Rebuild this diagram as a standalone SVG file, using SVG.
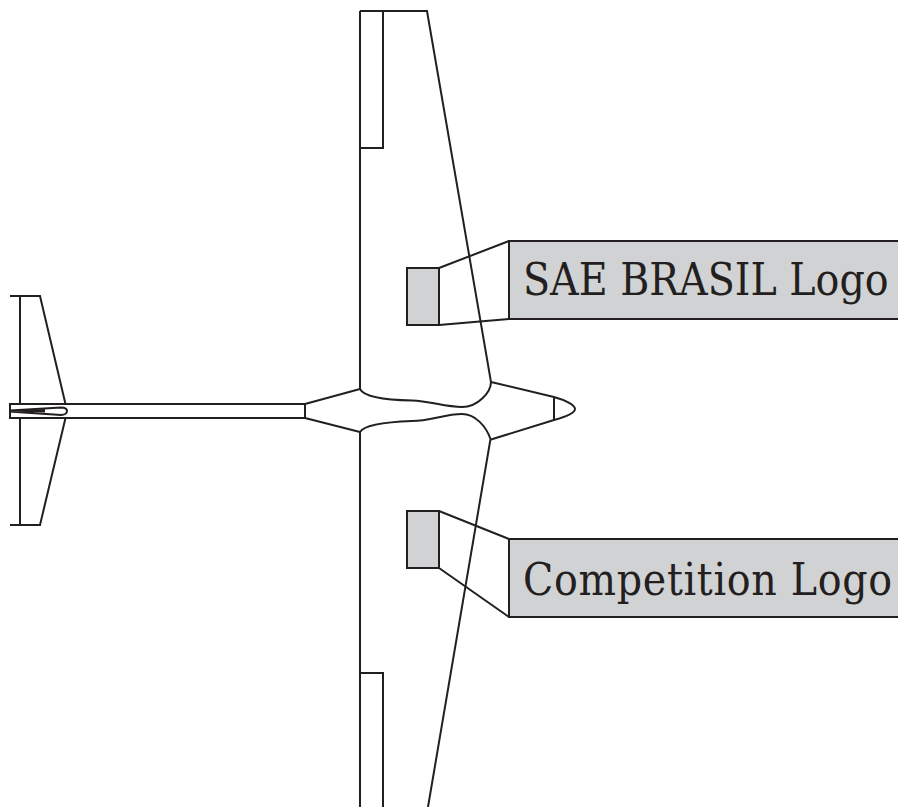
<svg xmlns="http://www.w3.org/2000/svg" width="898" height="807" viewBox="0 0 898 807">
<style>
.l{fill:none;stroke:#231f20;stroke-width:2;stroke-linejoin:miter}
.g{fill:#d1d2d3;stroke:#231f20;stroke-width:2}
.t{font-family:"DejaVu Serif Condensed","Liberation Serif",serif;font-size:44px;fill:#231f20}
</style>
<rect width="898" height="807" fill="#fff"/>
<g id="aircraft">
<path class="l" d="M360 807V432C364 425 385 422 412 421C430 421 445 414 462 414C475 414 486 426 490.500 439L428 807"/>
<path class="l" d="M360 11V389C364 397 385 400 412 400.500C430 401 445 407 462 407C478 407 491 392 491 382L427 11H360"/>
<path class="l" d="M360 148H383V11M360 673H383V807"/>
<path class="l" d="M491 382L554 397C565 400 575 405 575 409C575 413 565 417 554 420L491 439.500M554 397V420"/>
<path class="l" d="M360 389L305 404M360 432L305 418M305 404V418"/>
<path class="l" d="M305 404H10V418H305"/>
<path class="l" d="M10 410.500L61 407.500C65 407.500 67 409 67 411C67 413 65 415 61 415L10 411.500Z"/>
<path d="M11 410.500L45 409V412.500L11 411.500Z" fill="#231f20"/>
<path class="l" d="M10 296H40L65.500 404M20 296V404M10 525H40L65.500 418M20 525V418"/>
</g>
<g id="connectors">
<path class="l" d="M439 268L509 241M439 325L509 319M439 511L509 539M439 568L509 617"/>
</g>
<g id="sae-logo">
<rect class="g" x="407" y="268" width="32" height="57"/>
<path class="g" d="M898 241H509V319H898"/>
<text class="t" x="523" y="295">SAE BRASIL Logo</text>
</g>
<g id="competition-logo">
<rect class="g" x="407" y="511" width="32" height="57"/>
<path class="g" d="M898 539H509V617H898"/>
<text class="t" x="523" y="595" letter-spacing="0.7">Competition Logo</text>
</g>
</svg>
